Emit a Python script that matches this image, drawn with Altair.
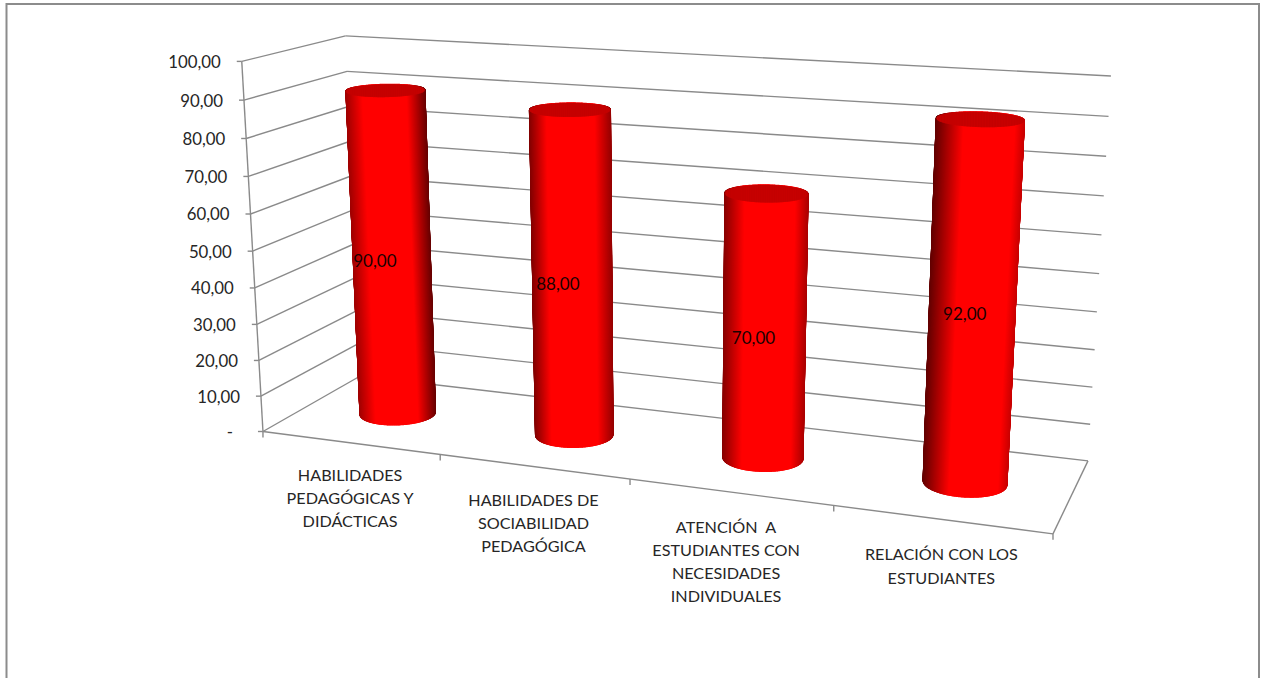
import altair as alt
import numpy as np
import pandas as pd

# Chart values
categories = [
    ["HABILIDADES", "PEDAGÓGICAS Y", "DIDÁCTICAS"],
    ["HABILIDADES DE", "SOCIABILIDAD", "PEDAGÓGICA"],
    ["ATENCIÓN\u00a0\u00a0A", "ESTUDIANTES CON", "NECESIDADES", "INDIVIDUALES"],
    ["RELACIÓN CON LOS", "ESTUDIANTES"],
]
values = [90, 88, 70, 92]
axis_ticks = [0, 10, 20, 30, 40, 50, 60, 70, 80, 90, 100]

WIDTH, HEIGHT = 1267, 678
GRID = "#8a8a8a"
TEXT = "#262626"
FONT = "Lato"

# Camera calibration: box coordinates (along, depth, height) to canvas position.
anchors = [
    ((0, 0, 0), (263.3, 430.5)), ((0, 0, 0.5), (252.5, 250)), ((0, 0, 1), (241.5, 62)),
    ((0, 1, 0), (360, 377)), ((0, 1, 0.9), (346.7, 71)), ((0, 1, 1), (346, 36)),
    ((1, 1, 0), (1088, 460)), ((1, 1, 0.5), (1099, 273)), ((1, 1, 0.9), (1108.7, 117)), ((1, 1, 1), (1111, 76)),
    ((1, 0, 0), (1053, 534)), ((0.25, 0, 0), (441, 455)), ((0.5, 0, 0), (629, 479.5)), ((0.75, 0, 0), (834, 506)),
]
rows, rhs = [], []
for (a, b, c), (px, py) in anchors:
    rows.append([a, b, c, 1, 0, 0, 0, 0, -px * a, -px * b, -px * c])
    rows.append([0, 0, 0, 0, a, b, c, 1, -py * a, -py * b, -py * c])
    rhs += [px, py]
cam = np.append(np.linalg.lstsq(np.array(rows, float), np.array(rhs, float), rcond=None)[0], 1).reshape(3, 4)


def project(a, b, c):
    p = cam @ np.array([a, b, c, np.ones_like(np.asarray(a, float))], dtype=float)
    return p[0] / p[2], p[1] / p[2]


sx = alt.Scale(domain=[0, WIDTH], range=[0, WIDTH])
sy = alt.Scale(domain=[0, HEIGHT], range=[0, HEIGHT])
X = alt.X("x:Q", scale=sx, axis=None)
Y = alt.Y("y:Q", scale=sy, axis=None)
NO = dict(x2=alt.X2("x2:Q"), y2=alt.Y2("y2:Q"))

# Walls, floor and ticks
segments = []


def seg(p, q, dx=0, dy=0):
    segments.append({"x": p[0], "y": p[1], "x2": q[0] + dx, "y2": q[1] + dy})


for t in axis_ticks:
    h = t / 100
    seg(project(0, 0, h), project(0, 1, h))
    seg(project(0, 1, h), project(1, 1, h))
    fl = project(0, 0, h)
    seg(fl, fl, dx=-5)
seg(project(0, 0, 0), project(0, 0, 1))
seg(project(0, 0, 0), project(1, 0, 0))
seg(project(1, 0, 0), project(1, 1, 0))
for a in [0, 0.25, 0.5, 0.75, 1]:
    p = project(a, 0, 0)
    seg(p, p, dy=6)
grid = alt.Chart(pd.DataFrame(segments)).mark_rule(color=GRID, strokeWidth=1.4).encode(X, Y, **NO)

# Cylinders: vertical strips around each circle, painted back to front, with a flat cap.
# The lit band and the edge tone of each side change with the cylinder's place along the box.
RU, RW = 0.0485, 0.188
LIT_LEFT = [-0.57, -0.57, -0.52, -0.38]
LIT_RIGHT = [0.53, 0.60, 0.68, 0.77]
EDGE_LEFT = [160, 130, 136, 100]
EDGE_RIGHT = [105, 150, 170, 200]
strips, caps = [], []
theta = np.linspace(0, 2 * np.pi, 361)[:-1]
for i, v in enumerate(values):
    uc = (i + 0.5) / len(values)
    ca, cb = uc + RU * np.cos(theta), 0.5 + RW * np.sin(theta)
    bx, by = project(ca, cb, np.zeros_like(ca))
    tx, ty = project(ca, cb, np.full_like(ca, v / 100))
    x_lo, x_hi = bx.min(), bx.max()
    for k in np.argsort(by):
        t = 2 * (bx[k] - x_lo) / (x_hi - x_lo) - 1
        if t < LIT_LEFT[i]:
            fall, edge = (LIT_LEFT[i] - t) / (1 + LIT_LEFT[i]), EDGE_LEFT[i]
        elif t > LIT_RIGHT[i]:
            fall, edge = (t - LIT_RIGHT[i]) / (1 - LIT_RIGHT[i]), EDGE_RIGHT[i]
        else:
            fall, edge = 0.0, 255
        red = int(255 - (255 - edge) * fall)
        strips.append({"x": tx[k], "y": ty[k], "x2": bx[k], "y2": by[k], "c": f"#{red:02x}0000"})
    lo, hi = int(np.argmin(tx)), int(np.argmax(tx))
    path = np.roll(np.arange(len(theta)), -lo)
    split = int(np.where(path == hi)[0][0])
    arc_a, arc_b = path[: split + 1], np.append(path[split:], lo)
    grid_x = np.linspace(tx[lo], tx[hi], 120)
    ya = np.interp(grid_x, tx[arc_a], ty[arc_a])
    yb = np.interp(grid_x, tx[arc_b][::-1], ty[arc_b][::-1])
    for gx, a_y, b_y in zip(grid_x, ya, yb):
        caps.append({"x": gx, "y": a_y, "x2": gx, "y2": b_y})

bodies = alt.Chart(pd.DataFrame(strips)).mark_rule(strokeWidth=2, strokeCap="round").encode(
    X, Y, alt.Color("c:N", scale=None), **NO
)
tops = alt.Chart(pd.DataFrame(caps)).mark_rule(color="#c40000", strokeWidth=1.2, strokeCap="round").encode(
    X, Y, **NO
)

# Axis labels, value labels and category labels
tick_rows = []
for t in axis_ticks:
    px, py = project(0, 0, t / 100)
    tick_rows.append({"x": px - (30 if t == 0 else 21), "y": py + 1.5,
                      "label": f"{t},00" if t else "-"})
tick_text = alt.Chart(pd.DataFrame(tick_rows)).mark_text(
    align="right", baseline="middle", font=FONT, fontSize=16.8, color=TEXT
).encode(X, Y, text="label:N")

VALUE_DY = [-1.5, 0, 1, -1]
value_rows = []
for i, v in enumerate(values):
    px, py = project((i + 0.5) / len(values), 0.5 - RW, v / 200)
    value_rows.append({"x": px + 1, "y": py + VALUE_DY[i], "label": f"{v},00"})
value_text = alt.Chart(pd.DataFrame(value_rows)).mark_text(
    align="center", baseline="middle", font=FONT, fontSize=17, color="#1a0000"
).encode(X, Y, text="label:N")

LABEL_DX = [0, 0, -4, 0]
LABEL_DY = [33, 34, 35.5, 36]
cat_rows = []
for i, lines in enumerate(categories):
    px, py = project((i + 0.5) / len(categories), 0, 0)
    for j, line in enumerate(lines):
        cat_rows.append({"x": px + LABEL_DX[i], "y": py + LABEL_DY[i] + j * 23.3, "label": line})
cat_text = alt.Chart(pd.DataFrame(cat_rows)).mark_text(
    align="center", baseline="middle", font=FONT, fontSize=16.2, color=TEXT
).encode(X, Y, text="label:N")

frame = alt.Chart(pd.DataFrame({"a": [0]})).mark_rect(fill="white", stroke="#8c8c8c", strokeWidth=2).encode(
    x=alt.value(6.5), x2=alt.value(1259), y=alt.value(4), y2=alt.value(720)
)

chart = alt.layer(frame, grid, bodies, tops, tick_text, value_text, cat_text).properties(
    width=WIDTH, height=HEIGHT, padding=0, autosize=alt.AutoSizeParams(type="none"), background="white"
).configure_view(stroke=None)

chart.save("out.html", embed_options={"renderer": "svg", "actions": False})
